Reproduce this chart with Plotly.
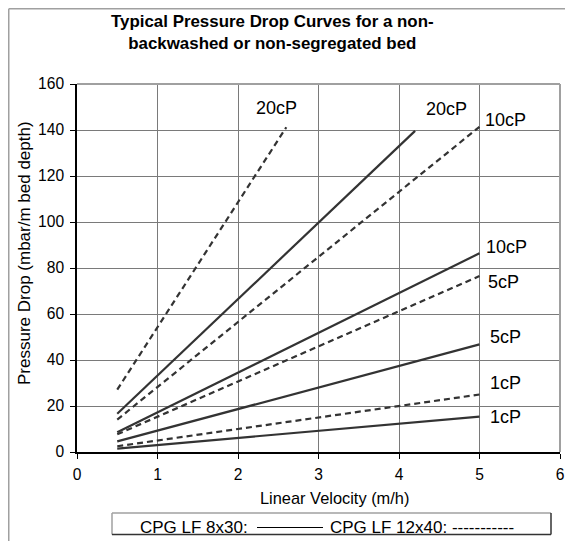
import plotly.graph_objects as go

# ---- data ----
viscosity = ["1cP", "5cP", "10cP", "20cP"]
x_start = [0.5, 0.5, 0.5, 0.5]

# CPG LF 8x30 (solid)
solid_x_end = [5.0, 5.0, 5.0, 4.2]
solid_y_start = [1.5, 4.6, 8.6, 16.6]
solid_y_end = [15.4, 46.8, 86.4, 139.6]

# CPG LF 12x40 (dashed)
dash_x_end = [5.0, 5.0, 5.0, 2.6]
dash_y_start = [2.5, 7.7, 14.1, 27.1]
dash_y_end = [25.0, 76.5, 141.4, 141.2]

# label positions (data coords)
solid_lbl_x = [5.32, 5.32, 5.34, 4.59]
solid_lbl_y = [15.4, 50.2, 89.3, 149.3]
dash_lbl_x = [5.32, 5.30, 5.32, 2.48]
dash_lbl_y = [29.8, 74.1, 144.3, 149.5]

x_ticks = [0, 1, 2, 3, 4, 5, 6]
y_ticks = [0, 20, 40, 60, 80, 100, 120, 140, 160]

W, H = 565, 533
L, R, T, B = 69, 13, 76, 89
PW, PH = W - L - R, H - T - B

def px(xp):
    return (xp - L) / PW

def py(yp):
    return (H - B - yp) / PH

FONT = "Arial, Liberation Sans, sans-serif"
LINE_COLOR = "#333333"

fig = go.Figure()
for i, v in enumerate(viscosity):
    fig.add_trace(go.Scatter(
        x=[x_start[i], solid_x_end[i]], y=[solid_y_start[i], solid_y_end[i]],
        mode="lines", line=dict(color=LINE_COLOR, width=2.2),
        name="CPG LF 8x30 " + v, showlegend=False, hoverinfo="skip"))
    fig.add_trace(go.Scatter(
        x=[x_start[i], dash_x_end[i]], y=[dash_y_start[i], dash_y_end[i]],
        mode="lines", line=dict(color=LINE_COLOR, width=2.2, dash="6px,4px"),
        name="CPG LF 12x40 " + v, showlegend=False, hoverinfo="skip"))

annotations = []
for i, v in enumerate(viscosity):
    annotations.append(dict(x=solid_lbl_x[i], y=solid_lbl_y[i], xref="x", yref="y",
                            text=v, showarrow=False, font=dict(size=18, color="black", family=FONT)))
    annotations.append(dict(x=dash_lbl_x[i], y=dash_lbl_y[i], xref="x", yref="y",
                            text=v, showarrow=False, font=dict(size=18, color="black", family=FONT)))

# title
annotations.append(dict(x=px(264), y=py(24.5), xref="paper", yref="paper",
                        text="<b>Typical Pressure Drop Curves for a non-<br>backwashed or non-segregated bed</b>",
                        showarrow=False, xanchor="center", yanchor="middle",
                        font=dict(size=16.9, color="black", family=FONT)))
# axis titles
annotations.append(dict(x=px(326), y=py(490), xref="paper", yref="paper",
                        text="Linear Velocity (m/h)", showarrow=False,
                        xanchor="center", yanchor="middle",
                        font=dict(size=16.4, color="black", family=FONT)))
annotations.append(dict(x=px(16), y=py(245), xref="paper", yref="paper",
                        text="Pressure Drop (mbar/m bed depth)", showarrow=False, textangle=-90,
                        xanchor="center", yanchor="middle",
                        font=dict(size=17, color="black", family=FONT)))
# legend text
annotations.append(dict(x=px(242), y=py(519), xref="paper", yref="paper",
                        text="CPG LF 8x30:", showarrow=False, xanchor="right", yanchor="middle",
                        font=dict(size=17, color="black", family=FONT)))
annotations.append(dict(x=px(320), y=py(519), xref="paper", yref="paper",
                        text="CPG LF 12x40: -----------", showarrow=False, xanchor="left", yanchor="middle",
                        font=dict(size=17, color="black", family=FONT)))

shapes = []
def hline(x0, x1, y, color, w):
    shapes.append(dict(type="line", xref="paper", yref="paper",
                       x0=px(x0), x1=px(x1), y0=py(y), y1=py(y),
                       line=dict(color=color, width=w)))
def vline(x, y0, y1, color, w):
    shapes.append(dict(type="line", xref="paper", yref="paper",
                       x0=px(x), x1=px(x), y0=py(y0), y1=py(y1),
                       line=dict(color=color, width=w)))

# outer chart border (top and left visible)
hline(0.75, W + 5, 0.75, "#a0a0a0", 1.5)
vline(0.75, 0.75, H + 5, "#a0a0a0", 1.5)
# plot area top / right border
hline(L, L + PW, T, "#a0a0a0", 2)
vline(L + PW, T, H - B, "#a0a0a0", 2)
# legend box
hline(104, 543, 505, "#a0a0a0", 1.5)
vline(104, 505, 526.5, "#a0a0a0", 1.5)
hline(104, 543, 526.5, "#333333", 1.5)
vline(543, 505, 526.5, "#333333", 1.5)
# legend solid-line sample
hline(249, 315, 519.5, "#000000", 1.2)

fig.update_layout(
    width=W, height=H,
    margin=dict(l=L, r=R, t=T, b=B, pad=0),
    paper_bgcolor="white", plot_bgcolor="white",
    font=dict(family=FONT, size=15.6, color="black"),
    showlegend=False,
    annotations=annotations,
    shapes=shapes,
    xaxis=dict(range=[0, 6], tickvals=x_ticks, ticks="outside", ticklen=5,
               tickcolor="black", showline=True, linecolor="black", linewidth=1.5,
               showgrid=True, gridcolor="#7a7a7a", gridwidth=1, zeroline=False,
               ticklabelstandoff=3, automargin=False,
               tickfont=dict(size=15.6, family=FONT)),
    yaxis=dict(range=[0, 160], tickvals=y_ticks, ticks="outside", ticklen=5,
               tickcolor="black", showline=True, linecolor="black", linewidth=1.5,
               showgrid=True, gridcolor="#7a7a7a", gridwidth=1, zeroline=False,
               ticklabelstandoff=3, automargin=False,
               tickfont=dict(size=15.6, family=FONT)),
)

fig.write_html("out.html")
